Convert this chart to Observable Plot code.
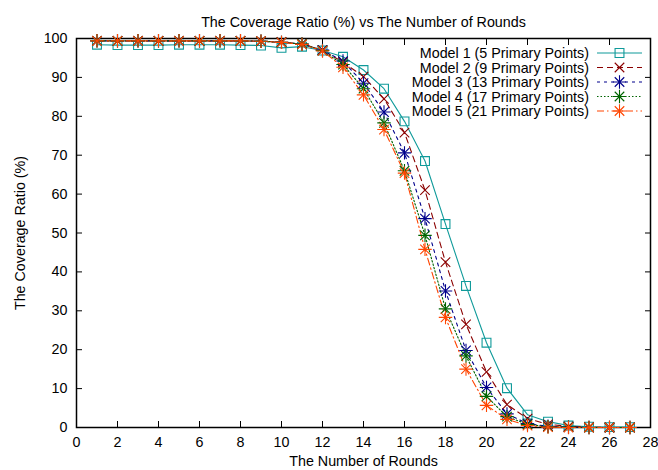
<!DOCTYPE html>
<html><head><meta charset="utf-8">
<script src="https://cdn.jsdelivr.net/npm/d3@7"></script>
<script src="https://cdn.jsdelivr.net/npm/@observablehq/plot@0.6"></script>
<style>
body{margin:0;background:#fff}
#chart{width:658px;height:470px}
</style>
</head><body><div id="chart"></div>
<script>
const title = "The Coverage Ratio (%) vs The Number of Rounds";
const xLabel = "The Number of Rounds";
const yLabel = "The Coverage Ratio (%)";
const xTicks = [0,2,4,6,8,10,12,14,16,18,20,22,24,26,28];
const yTicks = [0,10,20,30,40,50,60,70,80,90,100];
const rounds = [1,2,3,4,5,6,7,8,9,10,11,12,13,14,15,16,17,18,19,20,21,22,23,24,25,26,27];
const model1 = [98.4,98.3,98.3,98.3,98.4,98.4,98.4,98.3,98.2,97.6,97.9,96.9,95.3,91.9,87.1,78.7,68.5,52.3,36.4,21.8,10.1,3.3,1.5,0.5,0.2,0.1,0.1];
const model2 = [99.4,99.4,99.4,99.4,99.4,99.4,99.4,99.4,99.3,99.1,98.6,97.0,93.9,90.2,84.5,75.8,61.0,42.5,26.5,14.3,5.9,2.3,0.8,0.3,0.1,0,0];
const model3 = [99.4,99.4,99.4,99.4,99.4,99.4,99.4,99.4,99.3,99.0,98.6,97.0,94.2,88.5,81.1,70.6,53.7,35.1,19.8,10.3,3.5,1.0,0.3,0.1,0,0,0];
const model4 = [99.4,99.4,99.4,99.4,99.4,99.4,99.4,99.4,99.3,99.0,98.6,96.9,93.3,87.1,78.3,66.0,49.4,30.5,18.4,8.0,2.8,0.8,0.2,0.1,0,0,0];
const model5 = [99.4,99.4,99.4,99.4,99.4,99.4,99.4,99.4,99.3,99.0,98.5,96.8,92.6,85.5,76.6,65.4,45.8,28.3,15.0,5.7,2.1,0.5,0.1,0,0,0,0];
const seriesNames = ["Model 1 (5 Primary Points)","Model 2 (9 Primary Points)","Model 3 (13 Primary Points)","Model 4 (17 Primary Points)","Model 5 (21 Primary Points)"];
const seriesValues = [model1, model2, model3, model4, model5];
const colors = ["#0f9a9a","#8b0000","#00008b","#006400","#ff4500"];
const dashes = ["none","6,4","3,4","1.5,2","7,3,1.5,3"];
const symbols = [["square"],["times"],["plus","times"],["plus","times"],["plus","times"]];

const FONT = "'Liberation Sans', Arial, sans-serif";
const FS = 14.3;

const table = seriesNames.map((name, i) => rounds.map((r, j) => ({series: name, x: r, y: seriesValues[i][j]})));

const marks = [
  Plot.frame({stroke: "black", strokeWidth: 1.5}),
  Plot.axisX({ticks: xTicks, tickSize: -6, label: xLabel, labelAnchor: "center", labelOffset: 38, labelArrow: "none", fontSize: FS}),
  Plot.axisX({anchor: "top", ticks: xTicks, tickSize: -6, tickFormat: () => "", label: null}),
  Plot.axisY({ticks: yTicks, tickSize: -6, label: yLabel, labelAnchor: "center", labelOffset: 62, labelArrow: "none", fontSize: FS}),
  Plot.axisY({anchor: "right", ticks: yTicks, tickSize: -6, tickFormat: () => "", label: null}),
  Plot.text([title], {frameAnchor: "top", dy: -22, fontSize: FS})
];
table.forEach((rows, i) => {
  marks.push(Plot.line(rows, {x: "x", y: "y", stroke: colors[i], strokeWidth: 1.1, strokeDasharray: dashes[i]}));
});
table.forEach((rows, i) => {
  symbols[i].forEach(s => {
    marks.push(Plot.dot(rows, {x: "x", y: "y", symbol: s, r: s === "square" ? 5 : 4.4, stroke: colors[i], strokeWidth: 1.1, fill: "none"}));
  });
});

const svg = Plot.plot({
  width: 658, height: 470,
  marginLeft: 76, marginRight: 8, marginTop: 38, marginBottom: 43,
  style: {fontFamily: FONT, fontSize: FS + "px", color: "black", background: "white"},
  x: {domain: [0, 28]},
  y: {domain: [0, 100]},
  marks
});
document.getElementById("chart").appendChild(svg);

// legend (gnuplot-style key, top right inside plot)
const lg = d3.select(svg).append("g").attr("font-family", FONT).attr("font-size", FS);
seriesNames.forEach((name, i) => {
  const y = 53 + i * 14.5;
  lg.append("text").attr("x", 589).attr("y", y).attr("dy", "0.35em").attr("text-anchor", "end").attr("fill", "black").text(name);
  lg.append("line").attr("x1", 597).attr("x2", 642).attr("y1", y).attr("y2", y)
    .attr("stroke", colors[i]).attr("stroke-width", 1.1).attr("stroke-dasharray", dashes[i]);
  symbols[i].forEach(s => {
    const r = s === "square" ? 5 : 4.4;
    const sym = s === "square" ? d3.symbolSquare : s === "times" ? d3.symbolTimes : d3.symbolPlus;
    const path = d3.symbol(sym, Math.PI * r * r)();
    lg.append("path").attr("d", path).attr("transform", `translate(619.5,${y})`)
      .attr("fill", "none").attr("stroke", colors[i]).attr("stroke-width", 1.1);
  });
});
</script>
</body></html>
